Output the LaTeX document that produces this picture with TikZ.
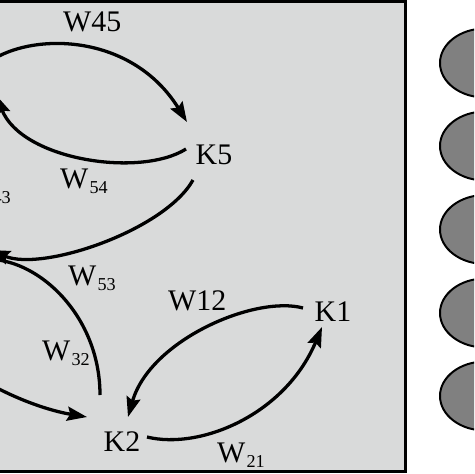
\documentclass[tikz,border=0pt]{standalone}
\usepackage{fontspec}
\setmainfont{Liberation Serif}
\usetikzlibrary{arrows.meta}
\definecolor{panelgray}{RGB}{217,218,218}
\definecolor{blobgray}{RGB}{128,128,128}
\newcommand{\wsub}[1]{W\kern1pt\raisebox{-4.5pt}{\fontsize{15.5}{16}\selectfont #1}}

\begin{document}
\begin{tikzpicture}[x=0.03cm,y=-0.03cm,
  lab/.style={inner sep=0,anchor=base west,font=\fontsize{25.5}{30}\selectfont},
  knode/.style={inner sep=0,font=\fontsize{25.5}{30}\selectfont},
  link/.style={line width=2.8pt,-{Stealth[length=17pt,width=12pt,inset=2.5pt]}},
  blob/.style={draw,line width=1.7pt,fill=blobgray}]
\useasboundingbox (0,0) rectangle (474,474);
\clip (0,0) rectangle (474,474);

% panel
\draw[line width=2.1pt,fill=panelgray] (-20,1.5) rectangle (405.5,471.5);

% blobs on the right
\draw[blob] (485,63) ellipse (1.35cm and 1.035cm);
\draw[blob] (485,146) ellipse (1.35cm and 1.035cm);
\draw[blob] (485,229.5) ellipse (1.35cm and 1.035cm);
\draw[blob] (485,313) ellipse (1.35cm and 1.035cm);
\draw[blob] (485,396) ellipse (1.35cm and 1.035cm);

% nodes
\node[knode] (K5) at (214,155) {K5};
\node[knode] (K1) at (333,312) {K1};
\node[knode] (K2) at (122,442) {K2};
\coordinate (k4) at (-30,78);
\coordinate (k3) at (-30,255);
\coordinate (kleft) at (-40,375);

% weights
\node[lab] (w45) at (63,31) {W45};
\node[lab] (w54) at (60,188) {\wsub{54}};
\node[lab] (w43) at (-37,198) {\wsub{43}};
\node[lab] (w53) at (68,285) {\wsub{53}};
\node[lab] (w12) at (168,310) {W12};
\node[lab] (w32) at (42,360) {\wsub{32}};
\node[lab] (w21) at (217,462) {\wsub{21}};

% links
\draw[link] ([shift={(15,-13)}]k4) .. controls +(40,-33) and +(-57,-92) .. ([shift={(-27,-33)}]K5.center);
\draw[link] ([shift={(-28,-6)}]K5.center) .. controls +(-46,29) and +(26,65) .. ([shift={(26,17)}]k4);
\draw[link] ([shift={(-21,25)}]K5.center) .. controls +(-28,50) and +(53,22) .. ([shift={(20,-5)}]k3);
\draw[link] ([shift={(-22,-47)}]K2.center) .. controls +(0,-75) and +(65,7) .. ([shift={(10,3)}]k3);
\draw[link] ([shift={(15,0)}]kleft) .. controls +(30,20) and +(-42,-7) .. ([shift={(-35,-25)}]K2.center);
\draw[link] ([shift={(-30,-4)}]K1.center) .. controls +(-48,-13) and +(22,-77) .. ([shift={(6,-25)}]K2.center);
\draw[link] ([shift={(25,-5)}]K2.center) .. controls +(53,13) and +(-37,88) .. ([shift={(-11,15)}]K1.center);
\end{tikzpicture}
\end{document}
